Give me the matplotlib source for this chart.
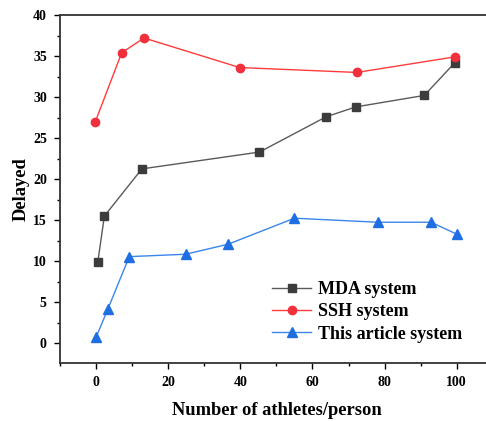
import numpy as np
import matplotlib
matplotlib.use("Agg")
import matplotlib.pyplot as plt
from matplotlib.ticker import MultipleLocator

# MDA system (grey squares)
mda_x = [0.5, 2.3, 12.7, 45.3, 63.8, 72.0, 91.0, 99.5]
mda_y = [9.95, 15.5, 21.25, 23.3, 27.6, 28.8, 30.2, 34.2]

# SSH system (red circles)
ssh_x = [-0.2, 7.1, 13.3, 39.8, 72.3, 99.5]
ssh_y = [27.0, 35.4, 37.2, 33.6, 33.0, 34.9]

# This article system (blue triangles)
art_x = [0.0, 3.3, 9.2, 24.8, 36.6, 55.0, 78.1, 92.9, 100.0]
art_y = [0.73, 4.2, 10.56, 10.85, 12.07, 15.24, 14.75, 14.75, 13.3]

plt.rcParams['font.family'] = ['Liberation Serif', 'DejaVu Serif']
plt.rcParams['font.weight'] = 'bold'

fig = plt.figure(figsize=(4.86, 4.21), dpi=100)
ax = fig.add_axes([60 / 486, 1 - 363 / 421, (492.8 - 60) / 486, (363 - 15) / 421])

ax.plot(mda_x, mda_y, color='#5a5a5a', lw=1.0, marker='s', ms=5.5,
        mfc='#3c3c3c', mec='#3c3c3c', label='MDA system')
ax.plot(ssh_x, ssh_y, color='#ff3b3b', lw=1.0, marker='o', ms=6,
        mfc='#f0303c', mec='#f0303c', label='SSH system')
ax.plot(art_x, art_y, color='#3a86ea', lw=1.0, marker='^', ms=7,
        mfc='#1f6fe3', mec='#1f6fe3', label='This article system')

ax.set_xlim(-10, 110)
ax.set_ylim(-2.4, 40)
ax.xaxis.set_major_locator(MultipleLocator(20))
ax.xaxis.set_minor_locator(MultipleLocator(10))
ax.yaxis.set_major_locator(MultipleLocator(5))
ax.yaxis.set_minor_locator(MultipleLocator(2.5))
ax.tick_params(which='major', direction='out', length=4.5, width=1, labelsize=10, pad=5)
ax.tick_params(which='minor', direction='out', length=2.3, width=1)
for lbl in ax.get_xticklabels() + ax.get_yticklabels():
    lbl.set_fontweight('bold')
for s in ax.spines.values():
    s.set_linewidth(1.3)
    s.set_color('#333333')

ax.set_xlabel('Number of athletes/person', fontsize=13.3, fontweight='bold', labelpad=9)
ax.set_ylabel('Delayed', fontsize=13.3, fontweight='bold', labelpad=2)

ax.legend(loc='upper left', bbox_to_anchor=(0.489, 0.236), frameon=False,
          borderpad=0, borderaxespad=0, handlelength=2.2, handletextpad=0.35,
          labelspacing=0.3, prop={'size': 13, 'weight': 'bold'})

fig.savefig('out.png', dpi=100)
